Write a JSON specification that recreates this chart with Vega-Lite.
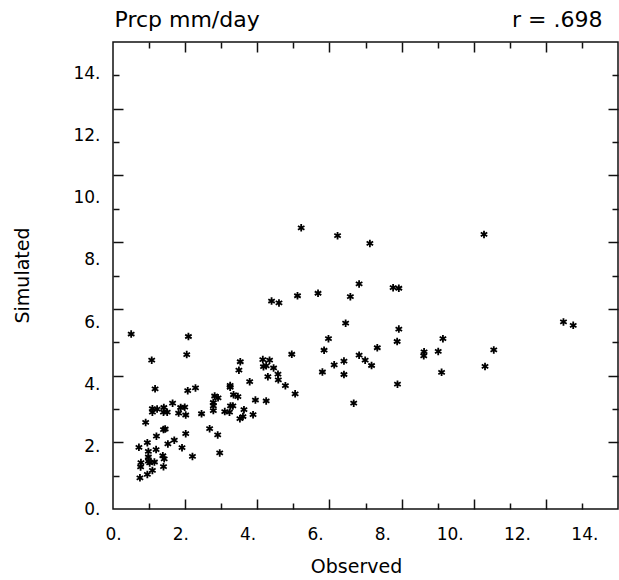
{
  "$schema": "https://vega.github.io/schema/vega-lite/v6.json",
  "width": 505,
  "height": 467,
  "autosize": {"type": "none"},
  "padding": {"left": 113, "top": 42, "right": 1, "bottom": 71},
  "background": "white",
  "config": {
    "view": {"stroke": "#111111", "strokeWidth": 1.5},
    "axis": {
      "domain": false,
      "grid": false,
      "labelFont": "DejaVu Sans",
      "labelFontSize": 17,
      "labelColor": "#000000",
      "titleFont": "DejaVu Sans",
      "titleFontSize": 19,
      "titleFontWeight": "normal",
      "titleColor": "#000000",
      "tickColor": "#111111",
      "tickWidth": 1.5
    }
  },
  "data": {
    "values": [
      {"obs": 5.59, "sim": 9.03}, {"obs": 6.67, "sim": 8.78}, {"obs": 7.31, "sim": 7.23},
      {"obs": 4.71, "sim": 6.68}, {"obs": 4.93, "sim": 6.62}, {"obs": 5.48, "sim": 6.85},
      {"obs": 6.09, "sim": 6.93}, {"obs": 7.05, "sim": 6.82}, {"obs": 6.91, "sim": 5.97},
      {"obs": 6.40, "sim": 5.47}, {"obs": 6.27, "sim": 5.10}, {"obs": 7.31, "sim": 4.94},
      {"obs": 6.86, "sim": 4.75}, {"obs": 6.57, "sim": 4.63}, {"obs": 6.22, "sim": 4.40},
      {"obs": 6.86, "sim": 4.32}, {"obs": 5.31, "sim": 4.97}, {"obs": 0.54, "sim": 5.62},
      {"obs": 2.24, "sim": 5.54}, {"obs": 2.19, "sim": 4.96}, {"obs": 1.15, "sim": 4.78},
      {"obs": 1.25, "sim": 3.86}, {"obs": 2.22, "sim": 3.80}, {"obs": 2.45, "sim": 3.89},
      {"obs": 3.78, "sim": 4.73}, {"obs": 3.74, "sim": 4.46}, {"obs": 4.06, "sim": 4.09},
      {"obs": 3.48, "sim": 3.97}, {"obs": 3.48, "sim": 3.91}, {"obs": 4.45, "sim": 4.80},
      {"obs": 4.65, "sim": 4.78}, {"obs": 4.47, "sim": 4.57}, {"obs": 4.55, "sim": 4.60},
      {"obs": 4.77, "sim": 4.53}, {"obs": 4.60, "sim": 4.25}, {"obs": 4.90, "sim": 4.33},
      {"obs": 4.91, "sim": 4.15}, {"obs": 5.12, "sim": 3.96}, {"obs": 5.41, "sim": 3.70},
      {"obs": 3.02, "sim": 3.63}, {"obs": 3.12, "sim": 3.57}, {"obs": 3.58, "sim": 3.67},
      {"obs": 3.71, "sim": 3.61}, {"obs": 4.23, "sim": 3.50}, {"obs": 4.55, "sim": 3.47},
      {"obs": 7.15, "sim": 3.40}, {"obs": 1.17, "sim": 3.22}, {"obs": 1.17, "sim": 3.11},
      {"obs": 1.31, "sim": 3.21}, {"obs": 1.51, "sim": 3.26}, {"obs": 1.50, "sim": 3.11},
      {"obs": 1.61, "sim": 3.11}, {"obs": 1.77, "sim": 3.40}, {"obs": 1.95, "sim": 3.08},
      {"obs": 2.01, "sim": 3.26}, {"obs": 2.13, "sim": 3.27}, {"obs": 2.16, "sim": 3.02},
      {"obs": 2.63, "sim": 3.06}, {"obs": 2.98, "sim": 3.42}, {"obs": 2.98, "sim": 3.31},
      {"obs": 2.98, "sim": 3.16}, {"obs": 3.32, "sim": 3.13}, {"obs": 3.46, "sim": 3.11},
      {"obs": 3.49, "sim": 3.31}, {"obs": 3.56, "sim": 3.31}, {"obs": 3.89, "sim": 3.19},
      {"obs": 3.86, "sim": 2.97}, {"obs": 3.77, "sim": 2.90}, {"obs": 4.16, "sim": 3.03},
      {"obs": 0.97, "sim": 2.78}, {"obs": 1.55, "sim": 2.57}, {"obs": 1.50, "sim": 2.55},
      {"obs": 1.29, "sim": 2.34}, {"obs": 1.82, "sim": 2.21}, {"obs": 1.63, "sim": 2.09},
      {"obs": 2.16, "sim": 2.42}, {"obs": 2.87, "sim": 2.58}, {"obs": 3.11, "sim": 2.38},
      {"obs": 2.05, "sim": 1.97}, {"obs": 3.17, "sim": 1.80}, {"obs": 2.36, "sim": 1.69},
      {"obs": 0.77, "sim": 1.98}, {"obs": 1.02, "sim": 2.13}, {"obs": 1.28, "sim": 1.91},
      {"obs": 1.05, "sim": 1.85}, {"obs": 1.05, "sim": 1.67}, {"obs": 1.05, "sim": 1.54},
      {"obs": 1.09, "sim": 1.48}, {"obs": 1.23, "sim": 1.51}, {"obs": 1.48, "sim": 1.71},
      {"obs": 1.52, "sim": 1.61}, {"obs": 1.50, "sim": 1.36}, {"obs": 0.83, "sim": 1.49},
      {"obs": 0.82, "sim": 1.35}, {"obs": 1.17, "sim": 1.24}, {"obs": 1.02, "sim": 1.11},
      {"obs": 0.80, "sim": 1.00}, {"obs": 11.02, "sim": 8.82}, {"obs": 7.63, "sim": 8.53},
      {"obs": 8.32, "sim": 7.11}, {"obs": 8.49, "sim": 7.09}, {"obs": 8.49, "sim": 5.78},
      {"obs": 8.44, "sim": 5.38}, {"obs": 7.85, "sim": 5.18}, {"obs": 7.49, "sim": 4.78},
      {"obs": 7.68, "sim": 4.61}, {"obs": 8.45, "sim": 4.01}, {"obs": 9.24, "sim": 5.05},
      {"obs": 9.23, "sim": 4.92}, {"obs": 9.66, "sim": 5.06}, {"obs": 9.80, "sim": 5.47},
      {"obs": 9.76, "sim": 4.39}, {"obs": 11.31, "sim": 5.11}, {"obs": 11.05, "sim": 4.58},
      {"obs": 13.38, "sim": 6.01}, {"obs": 13.67, "sim": 5.90}
    ]
  },
  "layer": [
    {
      "mark": {
        "type": "point",
        "shape": "M0,-1L0,1M-0.87,-0.5L0.87,0.5M-0.87,0.5L0.87,-0.5",
        "filled": false,
        "size": 56,
        "stroke": "#000000",
        "strokeWidth": 1.8,
        "opacity": 1
      },
      "encoding": {
        "x": {
          "field": "obs", "type": "quantitative",
          "scale": {"domain": [0, 15], "nice": false, "zero": false},
          "axis": {
            "orient": "bottom", "values": [0, 2, 4, 6, 8, 10, 12, 14],
            "labelExpr": "datum.value + '.'", "ticks": false, "tickSize": 0,
            "labelPadding": 17, "labelFlush": false, "labelBaseline": "top",
            "title": "Observed", "titleX": 243, "titleY": 57, "titleBaseline": "middle", "titleAlign": "center"
          }
        },
        "y": {
          "field": "sim", "type": "quantitative",
          "scale": {"domain": [0, 15], "nice": false, "zero": false},
          "axis": {
            "orient": "left", "values": [0, 2, 4, 6, 8, 10, 12, 14],
            "labelExpr": "datum.value + '.'", "ticks": false, "tickSize": 0,
            "labelPadding": 13, "labelFlush": false, "labelBaseline": "middle",
            "title": "Simulated", "titleX": -91, "titleY": 233, "titleBaseline": "middle", "titleAlign": "center", "titleAngle": 270
          }
        }
      }
    },
    {
      "mark": {"type": "point", "opacity": 0},
      "encoding": {
        "x": {
          "field": "obs", "type": "quantitative",
          "scale": {"domain": [0, 15], "nice": false, "zero": false},
          "axis": {
            "orient": "bottom",
            "values": [1.0714, 2.1429, 3.2143, 4.2857, 5.3571, 6.4286, 7.5, 8.5714, 9.6429, 10.7143, 11.7857, 12.8571, 13.9286],
            "labels": false, "title": null,
            "tickSize": {"condition": {"test": "round(datum.value * 14 / 15) % 2 == 0", "value": -10}, "value": -6}
          }
        },
        "y": {
          "field": "sim", "type": "quantitative",
          "scale": {"domain": [0, 15], "nice": false, "zero": false},
          "axis": {
            "orient": "left",
            "values": [1.0714, 2.1429, 3.2143, 4.2857, 5.3571, 6.4286, 7.5, 8.5714, 9.6429, 10.7143, 11.7857, 12.8571, 13.9286],
            "labels": false, "title": null,
            "tickSize": {"condition": {"test": "round(datum.value * 14 / 15) % 2 == 0", "value": -10}, "value": -6}
          }
        }
      }
    },
    {
      "mark": {"type": "point", "opacity": 0},
      "encoding": {
        "x": {
          "field": "obs", "type": "quantitative",
          "scale": {"domain": [0, 15], "nice": false, "zero": false},
          "axis": {
            "orient": "top",
            "values": [1.0714, 2.1429, 3.2143, 4.2857, 5.3571, 6.4286, 7.5, 8.5714, 9.6429, 10.7143, 11.7857, 12.8571, 13.9286],
            "labels": false,
            "tickSize": {"condition": {"test": "round(datum.value * 14 / 15) % 2 == 0", "value": -10}, "value": -6},
            "title": "Prcp mm/day", "titleFontSize": 22, "titleX": 1, "titleY": -16, "titleAlign": "left", "titleBaseline": "alphabetic"
          }
        },
        "y": {
          "field": "sim", "type": "quantitative",
          "scale": {"domain": [0, 15], "nice": false, "zero": false},
          "axis": {
            "orient": "right",
            "values": [1.0714, 2.1429, 3.2143, 4.2857, 5.3571, 6.4286, 7.5, 8.5714, 9.6429, 10.7143, 11.7857, 12.8571, 13.9286],
            "labels": false, "title": null,
            "tickSize": {"condition": {"test": "round(datum.value * 14 / 15) % 2 == 0", "value": -10}, "value": -6}
          }
        }
      }
    },
    {
      "mark": {"type": "point", "opacity": 0},
      "encoding": {
        "x": {
          "field": "obs", "type": "quantitative",
          "scale": {"domain": [0, 15], "nice": false, "zero": false},
          "axis": {
            "orient": "top", "values": [], "labels": false, "ticks": false,
            "title": "r = .698", "titleFontSize": 22, "titleX": 489, "titleY": -16, "titleAlign": "right", "titleBaseline": "alphabetic"
          }
        }
      }
    }
  ],
  "resolve": {"axis": {"x": "independent", "y": "independent"}}
}
